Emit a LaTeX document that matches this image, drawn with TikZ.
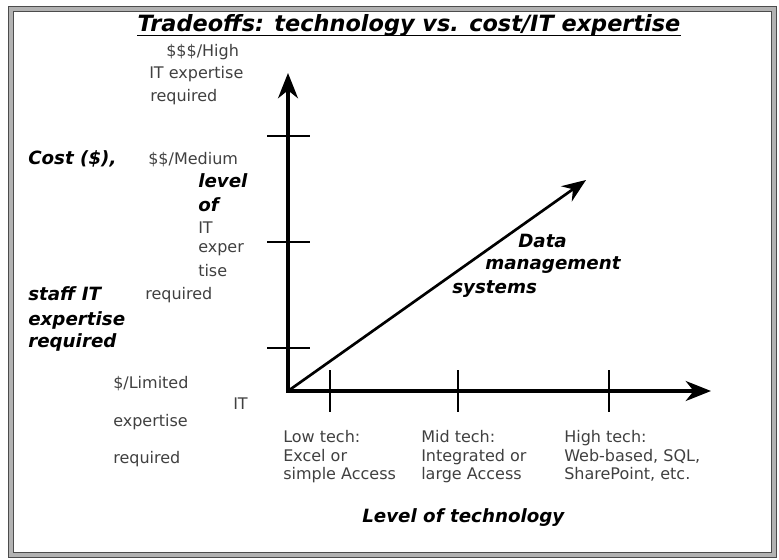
\documentclass[tikz,border=0pt]{standalone}
\usepackage{fontspec}
\setmainfont{DejaVu Sans}[BoldFont={DejaVu Sans Bold},
  ItalicFont={DejaVu Sans Oblique}, BoldItalicFont={DejaVu Sans Bold Oblique}]
\usetikzlibrary{arrows.meta}

\tikzset{
  lbl/.style={anchor=base west, inner sep=0pt, text=black!75,
    font=\fontsize{12}{14}\selectfont},
  techlbl/.style={lbl, anchor=north west, align=left},
  bigl/.style={anchor=base west, inner sep=0pt,
    font=\fontsize{13.7}{16}\selectfont\bfseries\itshape},
  axis/.style={line width=2.3pt, {Stealth[length=19pt, width=15pt, inset=6pt]}-{Stealth[length=19pt, width=15pt, inset=6pt]}},
  tick/.style={line width=1.1pt}
}

\begin{document}
\begin{tikzpicture}[x=0.75pt, y=-0.75pt]
  \useasboundingbox (0,0) rectangle (779,560);
  % frame
  \draw[line width=1.3pt, black!70, double=black!30, double distance=2.4pt] (11,9) rectangle (774,555);

  \node[anchor=base, inner sep=0pt, font=\fontsize{16.8}{19}\selectfont\bfseries\itshape] (title) at (409,32)
    {Tradeoffs: technology vs. cost/IT expertise};
  \draw[line width=1pt] ([yshift=-2.6pt]title.base west) -- ([yshift=-2.6pt]title.base east);

  % axes
  \coordinate (O) at (288,391);
  \coordinate (ytip) at (288,73);
  \coordinate (xtip) at (711,391);
  \coordinate (dtip) at (586,180);
  \draw[axis] (ytip) -- (O) -- (xtip);
  \foreach \y in {136,242,348}
    \draw[tick] (267,\y) -- (310,\y);
  \foreach \x in {330,458,609}
    \draw[tick] (\x,370) -- (\x,412);
  \draw[line width=2pt, -{Stealth[length=18pt, width=14pt, inset=6pt]}] (O) -- (dtip);

  % vertical axis labels
  \node[lbl] (high1) at (166,57) {\$\$\$/High};
  \node[lbl] (high2) at (149,79) {IT expertise};
  \node[lbl] (high3) at (150,102) {required};
  \node[bigl] (cost1) at (28,165) {Cost (\$),};
  \node[lbl] (med1) at (148,165) {\$\$/Medium};
  \node[bigl] (cost2) at (198,187) {level};
  \node[bigl] (cost3) at (198,211) {of};
  \node[lbl] (med2) at (198,233) {IT};
  \node[lbl] (med3) at (198,252) {exper};
  \node[lbl] (med4) at (198,276) {tise};
  \node[bigl] (cost4) at (28,300) {staff IT};
  \node[lbl] (med5) at (145,299) {required};
  \node[bigl] (cost5) at (28,325) {expertise};
  \node[bigl] (cost6) at (28,347) {required};
  \node[lbl] (low1) at (113,388) {\$/Limited};
  \node[lbl] (low2) at (233,409) {IT};
  \node[lbl] (low3) at (113,426) {expertise};
  \node[lbl] (low4) at (113,463) {required};

  % horizontal axis labels
  \node[techlbl] (lowtech) at (283,430) {Low tech:\\Excel or\\simple Access};
  \node[techlbl] (midtech) at (421,430) {Mid tech:\\Integrated or\\large Access};
  \node[techlbl] (hightech) at (564,430) {High tech:\\Web-based, SQL,\\SharePoint, etc.};
  \node[bigl] (xlabel) at (362,522) {Level of technology};

  \node[bigl] (dms1) at (518,247) {Data};
  \node[bigl] (dms2) at (485,269) {management};
  \node[bigl] (dms3) at (452,293) {systems};
\end{tikzpicture}
\end{document}
